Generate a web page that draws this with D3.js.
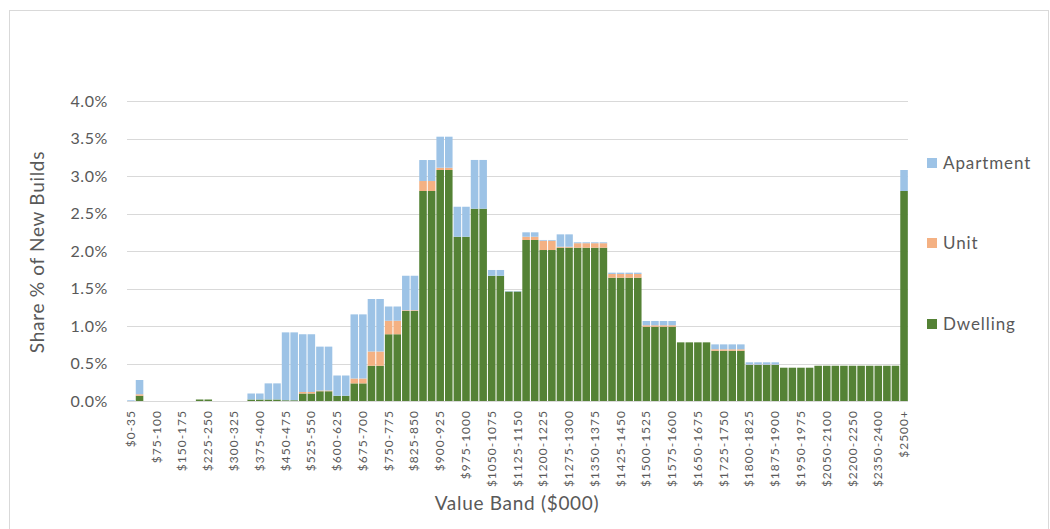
<!DOCTYPE html>
<html>
<head>
<meta charset="utf-8">
<script src="https://cdn.jsdelivr.net/npm/d3@7"></script>
<style>
  html, body { margin: 0; padding: 0; background: #fff; }
  svg text { font-family: Lato, "Open Sans", sans-serif; fill: #595959; }
</style>
</head>
<body>
<svg id="chart" width="1050" height="529"></svg>
<script>
// Value bands ($000)
const categories = [
  "$0-35", "$35-50", "$50-75"
];
for (let v = 75; v < 2000; v += 25) categories.push("$" + v + "-" + (v + 25));
for (let v = 2000; v < 2500; v += 50) categories.push("$" + v + "-" + (v + 50));
categories.push("$2500+");

// Share of new builds (%) by dwelling type, one entry per band
const dwelling = [
  0, 0.07, 0, 0, 0, 0, 0, 0, 0.02, 0.02,
  0, 0, 0, 0, 0.02, 0.02, 0.02, 0.02, 0.01, 0.01,
  0.10, 0.10, 0.13, 0.13, 0.07, 0.07, 0.235, 0.235, 0.47, 0.47,
  0.89, 0.89, 1.20, 1.20, 2.80, 2.80, 3.08, 3.08, 2.19, 2.19,
  2.564, 2.564, 1.67, 1.67, 1.46, 1.46, 2.147, 2.147, 2.013, 2.013,
  2.044, 2.044, 2.044, 2.044, 2.044, 2.044, 1.644, 1.644, 1.644, 1.644,
  0.99, 0.99, 0.99, 0.99, 0.782, 0.782, 0.782, 0.782, 0.67, 0.67,
  0.67, 0.67, 0.48, 0.48, 0.48, 0.48, 0.444, 0.444, 0.444, 0.444,
  0.47, 0.47, 0.47, 0.47, 0.47, 0.47, 0.47, 0.47, 0.47, 0.47,
  2.80
];
const unit = [
  0, 0.02, 0, 0, 0, 0, 0, 0, 0, 0,
  0, 0, 0, 0, 0, 0, 0, 0, 0, 0,
  0.02, 0.02, 0.01, 0.01, 0, 0, 0.065, 0.065, 0.19, 0.19,
  0.18, 0.18, 0.01, 0.01, 0.133, 0.133, 0.03, 0.03, 0, 0,
  0, 0, 0, 0, 0, 0, 0.043, 0.043, 0.124, 0.124,
  0.013, 0.013, 0.06, 0.06, 0.06, 0.06, 0.05, 0.05, 0.05, 0.05,
  0.02, 0.02, 0.02, 0.02, 0, 0, 0, 0, 0.02, 0.02,
  0.02, 0.02, 0.005, 0.005, 0.005, 0.005, 0, 0, 0, 0,
  0, 0, 0, 0, 0, 0, 0, 0, 0, 0,
  0
];
const apartment = [
  0.01, 0.19, 0, 0, 0, 0, 0, 0, 0, 0,
  0, 0, 0, 0, 0.08, 0.08, 0.215, 0.215, 0.905, 0.905,
  0.77, 0.77, 0.585, 0.585, 0.27, 0.27, 0.855, 0.855, 0.70, 0.70,
  0.19, 0.19, 0.46, 0.46, 0.28, 0.28, 0.414, 0.414, 0.40, 0.40,
  0.65, 0.65, 0.077, 0.077, 0.007, 0.007, 0.059, 0.059, 0.01, 0.01,
  0.165, 0.165, 0.012, 0.012, 0.012, 0.012, 0.017, 0.017, 0.017, 0.017,
  0.057, 0.057, 0.057, 0.057, 0, 0, 0, 0, 0.065, 0.065,
  0.065, 0.065, 0.031, 0.031, 0.031, 0.031, 0, 0, 0, 0,
  0, 0, 0, 0, 0, 0, 0, 0, 0, 0,
  0.28
];

const seriesNames = ["Dwelling", "Unit", "Apartment"];
const colors = { Dwelling: "#548235", Unit: "#f4b183", Apartment: "#9dc3e6" };
const yTicks = [0, 0.5, 1, 1.5, 2, 2.5, 3, 3.5, 4];

const rows = categories.map((c, i) => ({
  band: c, Dwelling: dwelling[i], Unit: unit[i], Apartment: apartment[i]
}));

const svg = d3.select("#chart");

// outer frame
svg.append("rect")
  .attr("x", 9.5).attr("y", 10.5)
  .attr("width", 1039).attr("height", 530)
  .attr("fill", "none").attr("stroke", "#d9d9d9");

const x = d3.scaleBand().domain(categories).range([127, 908]).paddingInner(0.12).paddingOuter(0.02);
const y = d3.scaleLinear().domain([0, 4]).range([401, 101]);

// gridlines
svg.append("g").selectAll("line").data(yTicks).join("line")
  .attr("x1", 127).attr("x2", 908)
  .attr("y1", d => Math.round(y(d)) + 0.5).attr("y2", d => Math.round(y(d)) + 0.5)
  .attr("stroke", "#d9d9d9").attr("stroke-width", 1);

// stacked bars
const stack = d3.stack().keys(seriesNames)(rows);
svg.append("g").selectAll("g").data(stack).join("g")
  .attr("fill", s => colors[s.key])
  .selectAll("rect").data(s => s).join("rect")
  .attr("x", d => x(d.data.band))
  .attr("width", x.bandwidth())
  .attr("y", d => y(d[1]))
  .attr("height", d => Math.max(0, y(d[0]) - y(d[1])));

// y axis labels
svg.append("g").selectAll("text").data(yTicks).join("text")
  .attr("x", 108).attr("y", d => y(d)).attr("dy", "0.35em")
  .attr("text-anchor", "end").attr("font-size", 16).attr("letter-spacing", 0.6)
  .text(d => d.toFixed(1) + "%");

// x axis tick labels (every third band)
svg.append("g").selectAll("text")
  .data(categories.filter((c, i) => i % 3 === 0)).join("text")
  .attr("transform", d => `translate(${x(d) + x.bandwidth() / 2 + 4},410) rotate(-90)`)
  .attr("text-anchor", "end").attr("font-size", 12).attr("letter-spacing", 1)
  .text(d => d);

// axis titles
svg.append("text")
  .attr("transform", "translate(44,252) rotate(-90)")
  .attr("text-anchor", "middle").attr("font-size", 19).attr("letter-spacing", 0.7)
  .text("Share % of New Builds");
svg.append("text")
  .attr("x", 517).attr("y", 510)
  .attr("text-anchor", "middle").attr("font-size", 19).attr("letter-spacing", 0.7)
  .text("Value Band ($000)");

// legend
const legendItems = [
  { name: "Apartment", y: 163 },
  { name: "Unit", y: 243 },
  { name: "Dwelling", y: 324 }
];
const lg = svg.append("g").selectAll("g").data(legendItems).join("g")
  .attr("transform", d => `translate(927,${d.y})`);
lg.append("rect").attr("x", 0).attr("y", -5).attr("width", 10).attr("height", 10)
  .attr("fill", d => colors[d.name]);
lg.append("text").attr("x", 16).attr("dy", "0.35em").attr("font-size", 17).attr("letter-spacing", 0.9)
  .text(d => d.name);
</script>
</body>
</html>
